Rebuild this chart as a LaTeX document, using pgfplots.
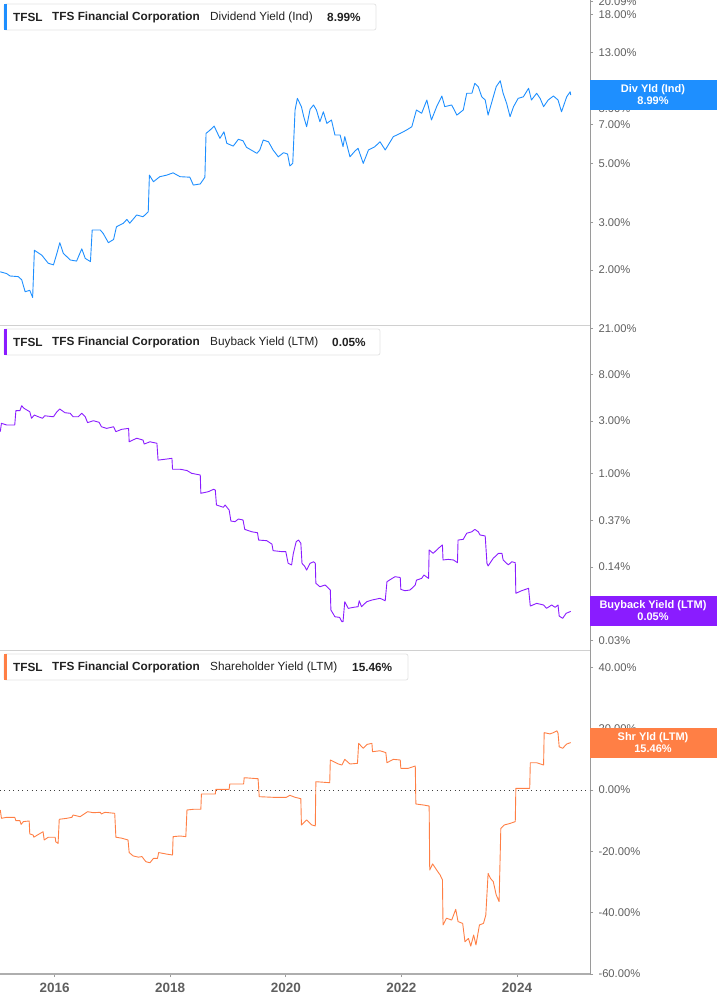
\documentclass[border=0pt]{standalone}
\usepackage{pgfplots}
\usepackage{pgfplotstable}
\pgfplotsset{compat=1.18}
\usepackage{fontspec}
\setmainfont{Liberation Sans}

\definecolor{divblue}{HTML}{1E8FFF}
\definecolor{bbpurple}{HTML}{8A1CFF}
\definecolor{shrorange}{HTML}{FF7F45}
\definecolor{ticktext}{HTML}{5F5F5F}
\definecolor{axisgray}{HTML}{9A9A9A}
\definecolor{sepgray}{HTML}{D0D0D0}
\definecolor{boxgray}{HTML}{E4E4E4}
\definecolor{titletext}{HTML}{222222}

% Dividend Yield (Ind), %
\pgfplotstableread{
year v
2015.06 1.97
2015.17 1.94
2015.23 1.90
2015.37 1.89
2015.43 1.84
2015.49 1.66
2015.57 1.68
2015.62 1.58
2015.65 2.37
2015.78 2.27
2015.89 2.12
2015.98 2.09
2016.04 2.31
2016.09 2.53
2016.15 2.31
2016.27 2.18
2016.38 2.16
2016.47 2.40
2016.53 2.21
2016.62 2.15
2016.65 2.82
2016.79 2.82
2016.84 2.74
2016.93 2.53
2017.02 2.60
2017.07 2.90
2017.19 2.99
2017.25 3.09
2017.30 2.99
2017.42 3.21
2017.53 3.16
2017.62 3.30
2017.64 4.52
2017.71 4.27
2017.82 4.46
2017.94 4.52
2018.05 4.61
2018.17 4.46
2018.34 4.44
2018.40 4.15
2018.52 4.19
2018.60 4.44
2018.62 6.47
2018.69 6.66
2018.76 6.89
2018.86 6.20
2018.93 6.56
2018.98 5.94
2019.09 5.80
2019.18 6.15
2019.26 6.07
2019.32 5.74
2019.50 5.45
2019.55 5.61
2019.61 6.11
2019.70 6.02
2019.78 5.61
2019.87 5.29
2019.96 5.48
2020.03 5.42
2020.07 4.89
2020.12 5.00
2020.16 7.91
2020.20 8.74
2020.27 8.14
2020.31 7.47
2020.36 6.85
2020.42 7.96
2020.48 8.26
2020.53 7.91
2020.59 7.15
2020.65 7.79
2020.71 7.05
2020.79 7.26
2020.85 6.38
2020.94 6.38
2020.99 5.77
2021.02 6.29
2021.11 5.29
2021.20 5.57
2021.25 5.69
2021.34 5.00
2021.43 5.61
2021.54 5.77
2021.63 6.02
2021.72 5.61
2021.86 6.29
2021.98 6.47
2022.09 6.66
2022.18 6.85
2022.26 7.91
2022.35 7.69
2022.44 8.62
2022.52 7.26
2022.61 8.14
2022.70 8.92
2022.75 8.14
2022.87 8.26
2022.96 7.57
2023.07 7.91
2023.13 9.13
2023.22 9.13
2023.27 9.95
2023.33 9.66
2023.39 8.86
2023.45 8.62
2023.50 7.57
2023.59 8.86
2023.64 9.66
2023.71 10.17
2023.76 9.13
2023.82 8.38
2023.88 7.47
2023.94 8.14
2024.02 8.74
2024.11 8.86
2024.20 9.53
2024.25 8.62
2024.34 9.13
2024.40 8.74
2024.46 8.14
2024.54 8.62
2024.63 8.92
2024.71 8.62
2024.77 7.79
2024.86 8.86
2024.92 9.25
2024.93 8.99
}\divtable

% Buyback Yield (LTM), %
\pgfplotstableread{
year v
2015.06 2.40
2015.08 2.86
2015.17 2.76
2015.31 2.76
2015.33 3.73
2015.40 3.73
2015.43 4.14
2015.47 3.92
2015.52 3.78
2015.57 3.65
2015.60 3.18
2015.65 3.40
2015.72 3.28
2015.79 3.18
2015.83 3.35
2015.98 3.28
2016.04 3.65
2016.09 3.86
2016.18 3.57
2016.27 3.53
2016.32 3.28
2016.41 3.28
2016.47 3.53
2016.53 3.28
2016.57 2.90
2016.67 3.02
2016.77 2.92
2016.81 2.66
2016.90 2.57
2017.02 2.66
2017.06 2.40
2017.16 2.52
2017.28 2.57
2017.29 1.94
2017.42 2.09
2017.53 2.01
2017.55 1.85
2017.65 1.94
2017.77 1.88
2017.79 1.32
2017.94 1.35
2018.03 1.37
2018.04 1.09
2018.17 1.09
2018.29 1.06
2018.37 1.00
2018.52 0.965
2018.53 0.657
2018.66 0.680
2018.75 0.715
2018.78 0.704
2018.80 0.514
2018.92 0.490
2018.95 0.514
2019.02 0.462
2019.05 0.367
2019.12 0.362
2019.18 0.383
2019.26 0.375
2019.29 0.308
2019.41 0.293
2019.51 0.287
2019.53 0.246
2019.67 0.243
2019.76 0.226
2019.78 0.197
2019.93 0.193
2020.00 0.193
2020.04 0.151
2020.10 0.146
2020.13 0.186
2020.18 0.238
2020.22 0.246
2020.26 0.230
2020.28 0.151
2020.33 0.141
2020.36 0.131
2020.42 0.151
2020.48 0.156
2020.51 0.151
2020.52 0.0992
2020.59 0.0923
2020.68 0.0957
2020.74 0.0893
2020.77 0.0862
2020.78 0.0566
2020.85 0.0491
2020.93 0.0485
2020.97 0.0443
2020.99 0.0443
2021.02 0.0674
2021.08 0.0586
2021.17 0.0599
2021.25 0.0607
2021.27 0.0688
2021.31 0.0607
2021.40 0.0674
2021.49 0.0698
2021.63 0.0724
2021.72 0.0688
2021.75 0.1026
2021.84 0.110
2021.89 0.114
2021.98 0.112
2021.99 0.0874
2022.06 0.0849
2022.15 0.0862
2022.24 0.0957
2022.26 0.106
2022.35 0.110
2022.39 0.118
2022.47 0.110
2022.48 0.200
2022.55 0.186
2022.64 0.207
2022.71 0.222
2022.72 0.162
2022.81 0.164
2022.90 0.162
2022.97 0.153
2022.98 0.246
2023.07 0.250
2023.13 0.284
2023.22 0.293
2023.27 0.308
2023.33 0.293
2023.36 0.274
2023.45 0.268
2023.48 0.151
2023.50 0.143
2023.59 0.168
2023.68 0.186
2023.74 0.186
2023.76 0.162
2023.85 0.146
2023.91 0.156
2023.97 0.153
2023.98 0.0804
2024.08 0.0849
2024.20 0.0893
2024.23 0.0615
2024.34 0.0651
2024.46 0.0629
2024.51 0.0586
2024.60 0.0629
2024.66 0.0599
2024.71 0.0629
2024.73 0.0499
2024.79 0.0475
2024.85 0.0528
2024.93 0.0550
}\bbtable

% Shareholder Yield (LTM), %
\pgfplotstableread{
year v
2015.06 -6.52
2015.08 -9.23
2015.17 -8.90
2015.31 -8.90
2015.33 -10.0
2015.40 -10.0
2015.42 -11.2
2015.46 -10.3
2015.56 -10.1
2015.57 -14.3
2015.63 -14.7
2015.64 -15.4
2015.70 -14.7
2015.80 -13.6
2015.82 -16.3
2015.89 -15.4
2016.01 -15.4
2016.02 -16.9
2016.06 -17.4
2016.08 -9.55
2016.21 -9.23
2016.30 -8.90
2016.32 -8.15
2016.44 -8.70
2016.57 -7.07
2016.67 -7.40
2016.79 -7.27
2016.81 -7.83
2016.87 -7.27
2017.04 -7.60
2017.06 -15.4
2017.16 -15.7
2017.27 -16.3
2017.29 -20.4
2017.36 -21.5
2017.45 -21.9
2017.51 -21.7
2017.58 -23.4
2017.65 -23.7
2017.71 -22.3
2017.78 -22.3
2017.80 -20.4
2017.94 -20.9
2018.04 -21.2
2018.05 -15.2
2018.17 -15.0
2018.27 -15.2
2018.29 -6.52
2018.40 -6.29
2018.53 -6.29
2018.54 -1.30
2018.78 -1.30
2018.79 0.23
2019.02 0.23
2019.03 1.96
2019.27 1.96
2019.28 4.01
2019.52 3.68
2019.54 -2.18
2019.78 -2.38
2020.01 -2.38
2020.07 -1.73
2020.16 -2.38
2020.26 -2.84
2020.27 -11.4
2020.36 -9.78
2020.45 -11.4
2020.51 -11.7
2020.52 2.71
2020.76 2.38
2020.77 9.78
2020.91 8.48
2020.97 8.15
2021.02 10.0
2021.11 8.48
2021.24 8.70
2021.26 15.2
2021.34 13.6
2021.41 14.9
2021.49 15.2
2021.50 12.5
2021.63 12.8
2021.73 12.2
2021.75 8.90
2021.86 10.0
2021.98 9.78
2021.99 7.07
2022.12 7.07
2022.24 7.83
2022.25 -4.56
2022.38 -4.89
2022.48 -5.22
2022.49 -26.1
2022.54 -24.1
2022.61 -26.1
2022.67 -27.7
2022.71 -29.3
2022.72 -44.0
2022.78 -41.8
2022.87 -42.4
2022.94 -38.9
2022.98 -42.9
2023.06 -43.5
2023.10 -49.5
2023.16 -48.4
2023.20 -50.9
2023.25 -47.3
2023.29 -50.5
2023.35 -44.0
2023.42 -43.5
2023.46 -40.8
2023.50 -27.2
2023.54 -28.8
2023.59 -29.9
2023.64 -34.2
2023.69 -36.4
2023.72 -12.5
2023.78 -11.4
2023.88 -10.9
2023.97 -10.3
2023.98 0.55
2024.22 0.55
2024.23 8.90
2024.34 8.90
2024.46 8.15
2024.47 18.7
2024.57 18.3
2024.63 18.7
2024.69 19.3
2024.71 18.5
2024.73 14.1
2024.79 13.6
2024.86 15.0
2024.93 15.46
}\shrtable

\pgfplotsset{
  panel/.style={
    scale only axis,
    width=590pt,
    xmin=2015.055, xmax=2025.263,
    axis y line*=right,
    axis x line*=bottom,
    y axis line style={draw=axisgray, line width=0.8pt, -},
    x axis line style={draw=sepgray, line width=0.9pt, -},
    xtick=\empty,
    tick align=outside,
    major tick length=3pt,
    ytick style={draw=axisgray, line width=0.8pt},
    yticklabel style={font=\fontsize{11.2}{13}\selectfont, text=ticktext, anchor=west, xshift=2pt},
  },
}

\begin{document}
\begin{tikzpicture}
\useasboundingbox (0,0) rectangle (717pt,-1005pt);

% Dividend yield panel
\begin{axis}[panel,
  at={(0pt,0pt)}, anchor=north west,
  height=325pt,
  ymode=log, ymin=1.247, ymax=20.35,
  ytick={2,3,5,7,8,13,18,20.09},
  yticklabels={2.00\%,3.00\%,5.00\%,7.00\%,8.00\%,13.00\%,18.00\%,20.09\%},
]
\addplot[divblue, line width=0.9pt, line join=round] table[x=year, y=v] {\divtable};
\end{axis}

% Buyback yield panel
\begin{axis}[panel,
  at={(0pt,-325pt)}, anchor=north west,
  height=325pt,
  ymode=log, ymin=0.02443, ymax=22.55,
  ytick={0.03,0.05,0.14,0.37,1,3,8,21},
  yticklabels={0.03\%,0.05\%,0.14\%,0.37\%,1.00\%,3.00\%,8.00\%,21.00\%},
]
\addplot[bbpurple, line width=0.9pt, line join=round] table[x=year, y=v] {\bbtable};
\end{axis}

% Shareholder yield panel
\begin{axis}[panel,
  at={(0pt,-650pt)}, anchor=north west,
  height=324pt,
  ymin=-60, ymax=45.65,
  ytick={-60,-40,-20,0,20,40},
  yticklabels={-60.00\%,-40.00\%,-20.00\%,0.00\%,20.00\%,40.00\%},
  x axis line style={draw=axisgray!80, line width=2pt, -},
  xtick={2016,2018,2020,2022,2024},
  xticklabels={2016,2018,2020,2022,2024},
  xtick style={draw=axisgray, line width=0.8pt},
  xticklabel style={font=\fontsize{13.5}{15}\selectfont\bfseries, text=ticktext, yshift=-3pt},
]
\addplot[black!75, line width=0.8pt, dash pattern=on 0.9pt off 3.6pt] coordinates {(2015.055,0) (2025.263,0)};
\addplot[shrorange, line width=0.9pt, line join=round] table[x=year, y=v] {\shrtable};
\end{axis}

% series title boxes
\begin{scope}[every node/.style={anchor=west, inner sep=0pt, text=titletext, font=\fontsize{11.8}{14}\selectfont}]
  \draw[boxgray, line width=0.8pt, fill=white, rounded corners=2pt] (4pt,-4pt) rectangle (376pt,-30pt);
  \fill[divblue] (4pt,-4pt) rectangle (7pt,-30pt);
  \node at (13pt,-17pt) {\bfseries TFSL};
  \node at (52pt,-17pt) {\bfseries TFS Financial Corporation};
  \node at (210pt,-17pt) {Dividend Yield (Ind)};
  \node at (327pt,-17pt) {\bfseries 8.99\%};

  \draw[boxgray, line width=0.8pt, fill=white, rounded corners=2pt] (4pt,-329pt) rectangle (380pt,-355pt);
  \fill[bbpurple] (4pt,-329pt) rectangle (7pt,-355pt);
  \node at (13pt,-342pt) {\bfseries TFSL};
  \node at (52pt,-342pt) {\bfseries TFS Financial Corporation};
  \node at (210pt,-342pt) {Buyback Yield (LTM)};
  \node at (332pt,-342pt) {\bfseries 0.05\%};

  \draw[boxgray, line width=0.8pt, fill=white, rounded corners=2pt] (4pt,-654pt) rectangle (408pt,-680pt);
  \fill[shrorange] (4pt,-654pt) rectangle (7pt,-680pt);
  \node at (13pt,-667pt) {\bfseries TFSL};
  \node at (52pt,-667pt) {\bfseries TFS Financial Corporation};
  \node at (210pt,-667pt) {Shareholder Yield (LTM)};
  \node at (352pt,-667pt) {\bfseries 15.46\%};
\end{scope}

% last-value flags on the right axis
\begin{scope}[every node/.style={anchor=center, inner sep=0pt, text=white, font=\fontsize{11}{13}\selectfont\bfseries}]
  \fill[divblue] (590pt,-80pt) rectangle (717pt,-110pt);
  \node at (653pt,-89.5pt) {Div Yld (Ind)};
  \node at (653pt,-101pt) {8.99\%};
  \fill[bbpurple] (590pt,-596pt) rectangle (717pt,-626pt);
  \node at (653pt,-605.5pt) {Buyback Yield (LTM)};
  \node at (653pt,-617pt) {0.05\%};
  \fill[shrorange] (590pt,-728pt) rectangle (717pt,-758pt);
  \node at (653pt,-737.5pt) {Shr Yld (LTM)};
  \node at (653pt,-749pt) {15.46\%};
\end{scope}
\end{tikzpicture}
\end{document}
